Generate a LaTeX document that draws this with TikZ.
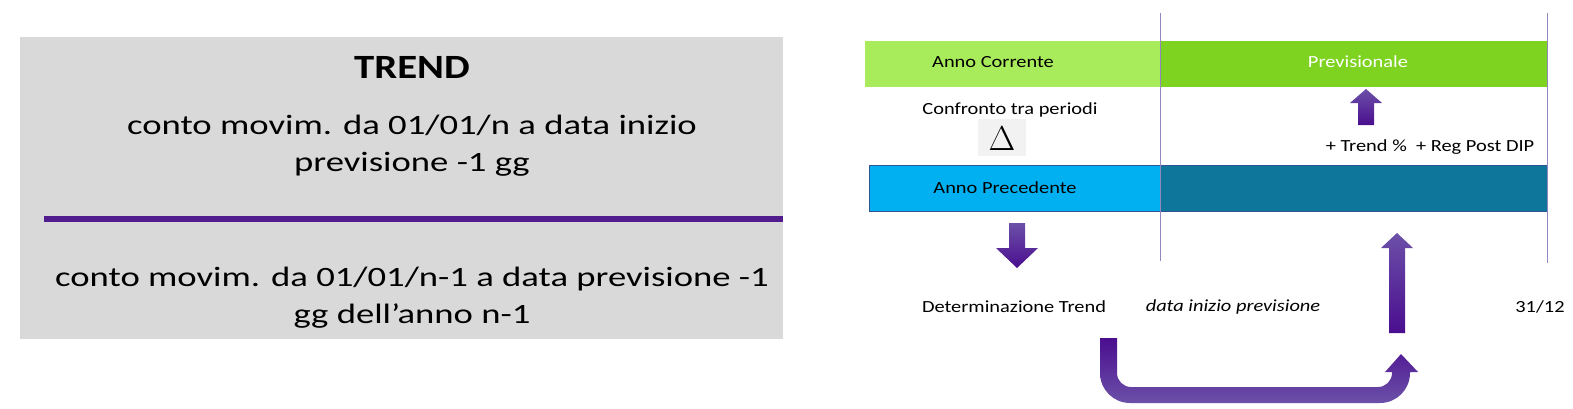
\documentclass[tikz,border=0pt]{standalone}
\usepackage{fontspec}
\setmainfont{Carlito}[FakeStretch=1.2]
\newfontfamily\widefont{Carlito}[FakeStretch=1.31]
\definecolor{graybg}{HTML}{D9D9D9}
\definecolor{purpleline}{HTML}{501C8E}
\definecolor{vlinec}{HTML}{9585C0}
\definecolor{lightgreen}{HTML}{A9EC5B}
\definecolor{midgreen}{HTML}{7ED321}
\definecolor{skyblue}{HTML}{00B0F0}
\definecolor{tealdark}{HTML}{0E769B}
\definecolor{barborder}{HTML}{2F5597}
\definecolor{arrowlight}{HTML}{6C50A8}
\definecolor{arrowdark}{HTML}{4A0E8F}
\definecolor{deltabg}{HTML}{F2F2F2}
\begin{document}
\begin{tikzpicture}[x=0.5pt,y=-0.5pt,
  lefttext/.style={align=center,font=\widefont\fontsize{14}{18.5}\selectfont,inner sep=0pt},
  righttext/.style={font=\fontsize{8.5}{10}\selectfont,inner sep=0pt},
  vline/.style={draw=vlinec,line width=0.5pt},
  arrowdown/.style={top color=arrowlight,bottom color=arrowdark},
  arrowup/.style={top color=arrowlight,bottom color=arrowdark},
  arrowu/.style={top color=arrowdark,bottom color=arrowlight}]
\useasboundingbox (0,0) rectangle (1573,408);
% left panel
\fill[graybg] (20,37) rectangle (783,339);
\draw[purpleline,line width=3pt] (44,219) -- (783,219);
\node[font=\fontsize{17}{20}\selectfont\bfseries,inner sep=0pt] (trend) at (412,67) {TREND};
\node[lefttext] (cur) at (412,146) {conto movim. da 01/01/n a data inizio\\previsione -1 gg};
\node[lefttext] (prev) at (412,298) {conto movim. da 01/01/n-1 a data previsione -1\\gg dell’anno n-1};
% right panel
\fill[lightgreen] (865,41) rectangle (1160,87);
\fill[midgreen] (1160,41) rectangle (1547,87);
\filldraw[fill=skyblue,draw=barborder,line width=0.4pt] (869,165) rectangle (1160,211);
\filldraw[fill=tealdark,draw=barborder,line width=0.4pt] (1160,165) rectangle (1547,211);
\draw[vline] (1160,13) -- (1160,261);
\draw[vline] (1547,13) -- (1547,263);
\node[righttext] (ac) at (993,62) {Anno Corrente};
\node[righttext,text=white] (pv) at (1358,62) {Previsionale};
\node[righttext] (ap) at (1005,188) {Anno Precedente};
\node[righttext] (cf) at (1010,110) {Confronto tra periodi};
\fill[deltabg] (978,119) rectangle (1026,156);
\node[inner sep=0pt,font=\fontsize{18}{20}\selectfont] (delta) at (1002,139) {$\Delta$};
\node[righttext] (tr) at (1430,147) {+ Trend \%\ \ + Reg Post DIP};
\node[righttext] (dt) at (1014,307) {Determinazione Trend};
\node[righttext,font=\fontsize{8.5}{10}\selectfont\itshape] (dp) at (1233,307) {data inizio previsione};
\node[righttext] (end) at (1540,307) {31/12};
% arrows
\shade[arrowup] (1358,125) -- (1358,103) -- (1350,103) -- (1366,89) -- (1382,103) -- (1374,103) -- (1374,125) -- cycle;
\shade[arrowdown] (1009,223) -- (1025,223) -- (1025,248) -- (1038,248) -- (1017,268) -- (996,248) -- (1009,248) -- cycle;
\shade[arrowup] (1389,333) -- (1389,248) -- (1381,248) -- (1397,233) -- (1413,248) -- (1405,248) -- (1405,333) -- cycle;
\shade[arrowu] (1100,338) [rounded corners=15pt] -- (1100,403) -- (1410,403) [sharp corners] -- (1410,372) -- (1418,372) -- (1401,354) -- (1385,372) -- (1392,372) [rounded corners=7pt] -- (1392,387) -- (1117,387) [sharp corners] -- (1117,338) -- cycle;
\end{tikzpicture}
\end{document}
